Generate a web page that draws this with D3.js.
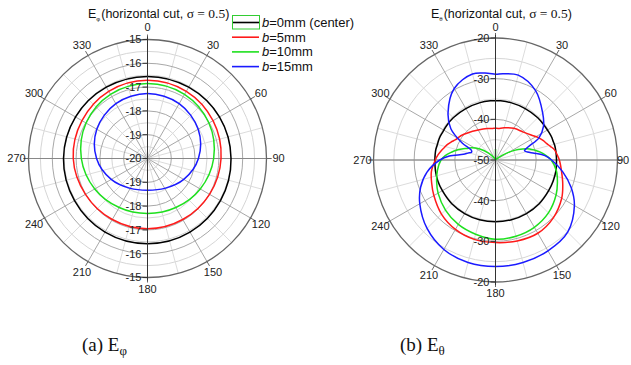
<!DOCTYPE html>
<html>
<head>
<meta charset="utf-8">
<script src="https://cdn.jsdelivr.net/npm/d3@7"></script>
<style>
  body { margin: 0; background: #fff; }
  svg text { font-family: Arial, "Liberation Sans", sans-serif; }
</style>
</head>
<body>
<svg id="chart" width="631" height="365"></svg>
<script>
// angle ticks and radial ticks
var angleTicks = [0, 30, 60, 90, 120, 150, 180, 210, 240, 270, 300, 330];
var phiRadialTicks = [-20, -19, -18, -17, -16, -15];
var thetaRadialTicks = [-50, -40, -30, -20];

var legendLabels = ["0mm (center)", "5mm", "10mm", "15mm"];
var seriesColors = ["#000000", "#ff1a1a", "#1ee01e", "#1a1aff"];

// (a) E_phi, values in dB read every 30 deg
var phiAngles = [0, 30, 60, 90, 120, 150, 180, 210, 240, 270, 300, 330];
var phiBlack = [-16.55, -16.54, -16.51, -16.49, -16.46, -16.43, -16.42, -16.43, -16.46, -16.47, -16.51, -16.54];
var phiRed   = [-16.71, -16.74, -16.82, -16.91, -16.99, -17.04, -17.05, -17.04, -16.99, -16.88, -16.82, -16.74];
var phiGreen = [-16.85, -16.89, -17.02, -17.22, -17.44, -17.62, -17.69, -17.62, -17.44, -17.22, -17.02, -16.89];
var phiBlue  = [-17.27, -17.34, -17.54, -17.86, -18.24, -18.55, -18.67, -18.55, -18.24, -17.86, -17.54, -17.34];

// (b) E_theta, values in dB
var thetaAngles = [0, 5, 15, 30, 45, 55, 63, 68, 72, 76, 80, 85, 90, 100, 110, 120, 135, 150, 165, 180,
                   195, 210, 225, 240, 250, 260, 270, 275, 280, 284, 288, 292, 297, 305, 315, 330, 345, 355];
var thetaBlack = [-35.4, -35.4, -35.4, -35.4, -35.3, -35.3, -35.2, -35.1, -35.1, -35.0, -35.0, -35.0, -35.0, -34.9, -34.9, -34.9, -34.8, -34.8, -34.8, -34.8,
                  -34.8, -34.8, -34.8, -34.9, -34.9, -35.0, -35.1, -35.1, -35.1, -35.2, -35.2, -35.2, -35.3, -35.3, -35.3, -35.4, -35.4, -35.4];
var thetaRed   = [-42.2, -42.2, -41.8, -41.0, -40.3, -39.3, -38.0, -37.3, -36.8, -36.1, -35.3, -34.8, -34.3, -33.5, -32.4, -31.2, -29.9, -29.2, -29.4, -29.7,
                  -29.8, -30.3, -31.2, -32.5, -33.3, -34.0, -35.2, -35.8, -36.5, -37.1, -37.6, -38.2, -39.0, -39.6, -40.5, -41.5, -42.0, -42.2];
var thetaGreen = [-47.3, -50.0, -50.0, -50.0, -49.7, -48.0, -44.8, -42.8, -41.2, -40.0, -38.8, -37.5, -36.3, -34.8, -33.8, -32.8, -31.6, -30.9, -30.6, -30.5,
                  -31.1, -31.7, -32.6, -33.7, -34.6, -35.5, -36.6, -37.6, -39.0, -40.1, -41.3, -42.4, -43.4, -45.3, -47.6, -49.5, -50.0, -50.0];
var thetaBlue  = [-28.9, -28.7, -28.4, -30.3, -33.6, -35.6, -38.0, -41.3, -42.5, -41.9, -40.3, -37.8, -36.2, -33.2, -30.2, -27.6, -24.9, -24.2, -23.9, -23.8,
                  -23.9, -24.6, -26.2, -28.5, -30.4, -32.9, -36.3, -38.6, -42.0, -43.0, -43.8, -43.6, -40.8, -36.6, -33.5, -29.7, -28.1, -28.6];

var serif = "'Liberation Serif', 'Times New Roman', serif";

var svg = d3.select("#chart");
svg.append("rect").attr("width", 631).attr("height", 365).attr("fill", "#fff");

function rad(a) { return a * Math.PI / 180; }

function polarChart(cfg) {
  var g = svg.append("g").attr("transform", "translate(" + cfg.cx + "," + cfg.cy + ")");
  var r = d3.scaleLinear().domain(cfg.domain).range([0, cfg.R]).clamp(true);

  // minor circles (half steps)
  var ticks = cfg.ticks;
  var step = ticks[1] - ticks[0];
  var minor = ticks.slice(0, -1).map(function (t) { return t + step / 2; });
  g.selectAll("circle.minor").data(minor).enter().append("circle")
    .attr("r", function (d) { return r(d); })
    .attr("fill", "none").attr("stroke", "#d6d6d6").attr("stroke-width", 1);

  // spokes every 15 deg
  var spokes = d3.range(0, 360, 15);
  g.selectAll("line.spoke").data(spokes).enter().append("line")
    .attr("x1", 0).attr("y1", 0)
    .attr("x2", function (d) { return cfg.R * Math.sin(rad(d)); })
    .attr("y2", function (d) { return -cfg.R * Math.cos(rad(d)); })
    .attr("stroke", function (d) { return d % 30 === 0 ? "#a8a8a8" : "#dcdcdc"; })
    .attr("stroke-width", 1);

  g.selectAll("circle.major").data(ticks.slice(1, -1)).enter().append("circle")
    .attr("r", function (d) { return r(d); })
    .attr("fill", "none").attr("stroke", "#a8a8a8").attr("stroke-width", 1);

  // horizontal axis
  g.append("line").attr("x1", -cfg.R - 5).attr("x2", cfg.R + 5).attr("y1", 0).attr("y2", 0)
    .attr("stroke", "#888").attr("stroke-width", 1);

  // outer circle
  g.append("circle").attr("r", cfg.R).attr("fill", "none").attr("stroke", "#666").attr("stroke-width", 1.3);

  // outer ticks
  g.selectAll("line.otick").data(angleTicks).enter().append("line")
    .attr("x1", function (d) { return cfg.R * Math.sin(rad(d)); })
    .attr("y1", function (d) { return -cfg.R * Math.cos(rad(d)); })
    .attr("x2", function (d) { return (cfg.R + 5) * Math.sin(rad(d)); })
    .attr("y2", function (d) { return -(cfg.R + 5) * Math.cos(rad(d)); })
    .attr("stroke", "#666").attr("stroke-width", 1);

  // curves
  var line = d3.lineRadial()
    .angle(function (d) { return rad(d[0]); })
    .radius(function (d) { return r(d[1]); })
    .curve(d3.curveCatmullRomClosed.alpha(0.5));
  cfg.series.forEach(function (vals, i) {
    var pts = cfg.angles.map(function (a, j) { return [a, vals[j]]; });
    g.append("path").attr("d", line(pts))
      .attr("fill", "none").attr("stroke", seriesColors[i]).attr("stroke-width", 1.5);
  });

  // vertical axis
  g.append("line").attr("x1", 0).attr("x2", 0).attr("y1", -cfg.R - 3).attr("y2", cfg.R + 3)
    .attr("stroke", "#333").attr("stroke-width", 1);

  // radial tick labels (top and bottom)
  var lab = [];
  ticks.forEach(function (t) { lab.push({ v: t, s: -1 }); if (t !== ticks[0]) lab.push({ v: t, s: 1 }); });
  g.selectAll("line.rtick").data(lab).enter().append("line")
    .attr("x1", -5).attr("x2", 0)
    .attr("y1", function (d) { return d.s * r(d.v); })
    .attr("y2", function (d) { return d.s * r(d.v); })
    .attr("stroke", "#333");
  g.selectAll("text.rlab").data(lab).enter().append("text")
    .attr("x", -6).attr("y", function (d) { return d.s * r(d.v); })
    .attr("dy", "0.35em").attr("text-anchor", "end")
    .attr("font-size", 11).attr("fill", "#222")
    .text(function (d) { return d.v; });

  // angle labels
  g.selectAll("text.alab").data(angleTicks).enter().append("text")
    .attr("x", function (d) {
      var x = cfg.labelR * Math.sin(rad(d));
      return Math.min(x, 631 - cfg.cx - 8);
    })
    .attr("y", function (d) { return -cfg.labelR * Math.cos(rad(d)); })
    .attr("dy", "0.35em").attr("text-anchor", "middle")
    .attr("font-size", 11).attr("fill", "#222")
    .text(function (d) { return d; });

  // title
  var t = svg.append("text").attr("x", cfg.titleX).attr("y", 18)
    .attr("font-size", 12.5).attr("fill", "#111");
  t.append("tspan").text("E");
  t.append("tspan").attr("font-size", 6).attr("dy", 3).text(cfg.sub);
  t.append("tspan").attr("dy", -3).attr("dx", 1).text("(horizontal cut, ");
  t.append("tspan").style("font-family", serif).attr("font-size", 13.5).text("σ = 0.5");
  t.append("tspan").text(")");

  // caption
  var c = svg.append("text").attr("x", cfg.capX).attr("y", 351)
    .style("font-family", serif)
    .attr("font-size", 19).attr("fill", "#111");
  c.append("tspan").text(cfg.cap + " E");
  c.append("tspan").attr("font-size", 13).attr("dy", 4).text(cfg.sub);
}

polarChart({
  cx: 147.5, cy: 158.5, R: 119, labelR: 131, domain: [-20, -15], ticks: phiRadialTicks,
  angles: phiAngles, series: [phiBlack, phiRed, phiGreen, phiBlue],
  sub: "φ", titleX: 88, cap: "(a)", capX: 82
});
polarChart({
  cx: 495.5, cy: 160, R: 122, labelR: 133, domain: [-50, -20], ticks: thetaRadialTicks,
  angles: thetaAngles, series: [thetaBlack, thetaRed, thetaGreen, thetaBlue],
  sub: "θ", titleX: 431, cap: "(b)", capX: 400
});

// legend
var leg = svg.append("g");
legendLabels.forEach(function (lbl, i) {
  var y = 22.5 + i * 14.7;
  leg.append("line").attr("x1", 232).attr("x2", 259).attr("y1", y).attr("y2", y)
    .attr("stroke", seriesColors[i]).attr("stroke-width", 1.6);
  var t = leg.append("text").attr("x", 262).attr("y", y).attr("dy", "0.35em")
    .attr("font-size", 13).attr("fill", "#111");
  t.append("tspan").attr("font-style", "italic").text("b");
  t.append("tspan").text("=" + lbl);
});
leg.append("rect").attr("x", 232.5).attr("y", 15.5).attr("width", 27).attr("height", 13.5)
  .attr("fill", "none").attr("stroke", "#33cc33").attr("stroke-width", 1);
</script>
</body>
</html>
